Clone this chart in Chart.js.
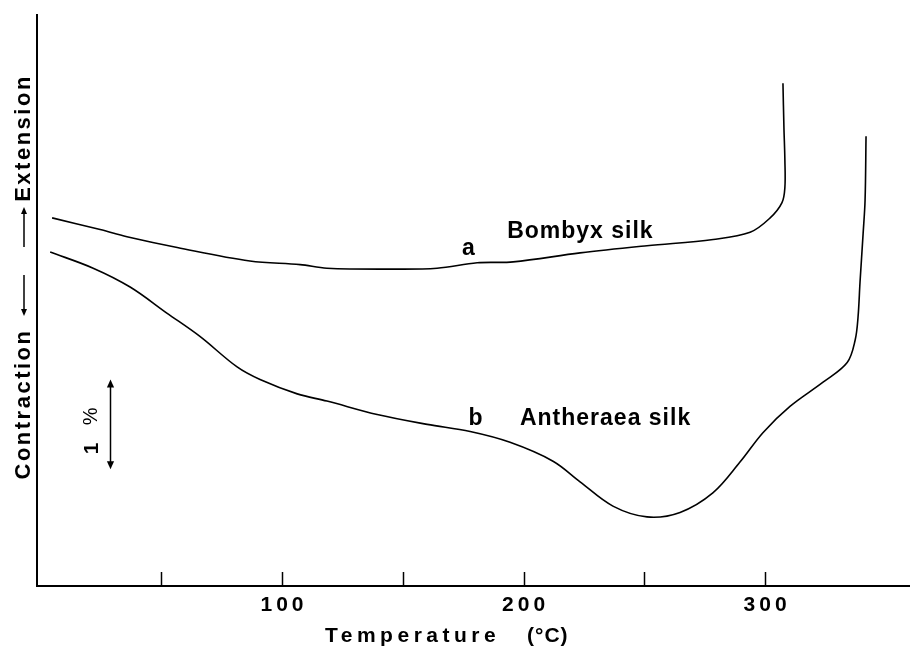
<!DOCTYPE html>
<html><head><meta charset="utf-8">
<script src="https://cdn.jsdelivr.net/npm/chart.js@4/dist/chart.umd.min.js"></script>
<style>html,body{margin:0;padding:0;background:#fff;}#wrap{width:910px;height:647px;}</style>
</head><body><div id="wrap"><canvas id="c" width="910" height="647"></canvas></div>
<script>
// Temperature (°C) and relative length (% units, arbitrary zero)
const tempA = [4.8, 24.7, 35.8, 56.6, 86.7, 107.5, 118.6, 146.0, 164.2, 180.8, 195.7, 223.4, 251.1, 278.5, 293.8, 302.1, 307.0, 308.2, 308.2, 307.8, 307.4];
const lenA  = [4.10, 3.97, 3.89, 3.77, 3.62, 3.58, 3.54, 3.53, 3.54, 3.60, 3.61, 3.71, 3.79, 3.86, 3.94, 4.10, 4.27, 4.44, 4.74, 5.11, 5.60];
const tempB = [4.0, 21.8, 37.1, 52.3, 66.0, 81.4, 90.9, 106.3, 118.6, 139.4, 160.1, 177.9, 194.4, 212.2, 223.4, 237.0, 251.1, 264.8, 278.5, 289.6, 299.2, 310.3, 324.0, 334.0, 337.3, 338.5, 339.3, 340.6, 341.4, 341.8];
const lenB  = [3.72, 3.54, 3.33, 3.04, 2.78, 2.44, 2.30, 2.14, 2.06, 1.91, 1.80, 1.72, 1.60, 1.39, 1.16, 0.89, 0.77, 0.82, 1.04, 1.38, 1.71, 2.00, 2.27, 2.49, 2.74, 3.00, 3.38, 3.93, 4.30, 5.01];
const tickValues = [50, 100, 150, 200, 250, 300];
const tickLabels = [100, 200, 300];
// curve annotations (baseline positions)
const noteTexts = ['a', 'Bombyx silk', 'b', 'Antheraea silk'];
const noteTemp  = [177.4, 193.2, 180.3, 198.5];
const noteLen   = [3.69, 3.88, 1.79, 1.79];
const noteAlign = ['center', 'left', 'center', 'left'];
// 1 % scale bar
const barTemp = 28.8;
const barFrom = 1.30;
const barTo = 2.30;

const FONT = '"Liberation Sans", Arial, sans-serif';
const toPts = (xs, ys) => xs.map((x, i) => ({x: x, y: ys[i]}));

function arrowHead(ctx, x, y, dir, size) {
  ctx.beginPath();
  ctx.moveTo(x, y);
  ctx.lineTo(x - size * 0.45, y - dir * size);
  ctx.lineTo(x + size * 0.45, y - dir * size);
  ctx.closePath();
  ctx.fill();
}

const decor = {
  id: 'decor',
  afterDraw(chart) {
    const ctx = chart.ctx, xs = chart.scales.x, ys = chart.scales.y, ca = chart.chartArea;
    ctx.save();
    ctx.fillStyle = '#000'; ctx.strokeStyle = '#000';
    // inner tick marks on x axis
    ctx.lineWidth = 1.5;
    tickValues.forEach(v => {
      const px = Math.round(xs.getPixelForValue(v)) + 0.5;
      ctx.beginPath(); ctx.moveTo(px, ca.bottom); ctx.lineTo(px, ca.bottom - 14); ctx.stroke();
    });
    // tick labels
    ctx.font = 'bold 21px ' + FONT;
    ctx.textAlign = 'center'; ctx.textBaseline = 'alphabetic';
    ctx.letterSpacing = '4px';
    tickLabels.forEach(v => {
      ctx.fillText(String(v), xs.getPixelForValue(v) + 2, 611);
    });
    // annotations
    ctx.font = 'bold 23px ' + FONT;
    ctx.letterSpacing = '1px';
    noteTexts.forEach((t, i) => {
      ctx.textAlign = noteAlign[i];
      ctx.fillText(t, xs.getPixelForValue(noteTemp[i]), ys.getPixelForValue(noteLen[i]));
    });
    ctx.letterSpacing = '0px';
    // scale bar
    const bx = Math.round(xs.getPixelForValue(barTemp)) + 0.5;
    const b1 = ys.getPixelForValue(barFrom), b2 = ys.getPixelForValue(barTo);
    ctx.lineWidth = 1.5;
    ctx.beginPath(); ctx.moveTo(bx, b1 - 6); ctx.lineTo(bx, b2 + 6); ctx.stroke();
    arrowHead(ctx, bx, b2, -1, 8);
    arrowHead(ctx, bx, b1, 1, 8);
    ctx.save();
    ctx.translate(bx - 18, (b1 + b2) / 2);
    ctx.rotate(-Math.PI / 2);
    ctx.textAlign = 'center'; ctx.textBaseline = 'middle';
    ctx.font = 'bold 21px ' + FONT;
    ctx.fillText('1', -24, 0);
    ctx.font = '20px ' + FONT;
    ctx.fillText('%', 8, -1);
    ctx.restore();
    // x axis title
    ctx.font = 'bold 21px ' + FONT;
    ctx.textAlign = 'left'; ctx.textBaseline = 'alphabetic';
    ctx.letterSpacing = '4.5px';
    ctx.fillText('Temperature', 325, 642);
    ctx.letterSpacing = '1px';
    ctx.fillText('(°C)', 527, 642);
    ctx.letterSpacing = '0px';
    // y axis title (rotated)
    ctx.save();
    ctx.translate(24, 0);
    ctx.rotate(-Math.PI / 2);
    ctx.font = 'bold 22px ' + FONT;
    ctx.textAlign = 'center'; ctx.textBaseline = 'middle';
    ctx.letterSpacing = '2.5px';
    ctx.fillText('Contraction', -404, 0);
    ctx.fillText('Extension', -138, 0);
    ctx.letterSpacing = '0px';
    ctx.lineWidth = 1.5;
    // arrow toward contraction (down on page)
    ctx.beginPath(); ctx.moveTo(-275, 0); ctx.lineTo(-311, 0); ctx.stroke();
    ctx.beginPath(); ctx.moveTo(-316, 0); ctx.lineTo(-309, -3); ctx.lineTo(-309, 3); ctx.closePath(); ctx.fill();
    // arrow toward extension (up on page)
    ctx.beginPath(); ctx.moveTo(-247, 0); ctx.lineTo(-212, 0); ctx.stroke();
    ctx.beginPath(); ctx.moveTo(-207, 0); ctx.lineTo(-214, -3); ctx.lineTo(-214, 3); ctx.closePath(); ctx.fill();
    ctx.restore();
    ctx.restore();
  }
};

new Chart(document.getElementById('c'), {
  type: 'scatter',
  data: {
    datasets: [
      {label: 'Bombyx silk', data: toPts(tempA, lenA), showLine: true, borderColor: '#000', borderWidth: 1.6, pointRadius: 0, tension: 0.35},
      {label: 'Antheraea silk', data: toPts(tempB, lenB), showLine: true, borderColor: '#000', borderWidth: 1.6, pointRadius: 0, tension: 0.35}
    ]
  },
  options: {
    responsive: false,
    animation: false,
    layout: {padding: {left: 0, right: 0, top: 15, bottom: 0}},
    plugins: {legend: {display: false}, tooltip: {enabled: false}},
    scales: {
      x: {
        type: 'linear', min: -1.45, max: 360,
        afterBuildTicks: s => { s.ticks = tickValues.map(v => ({value: v})); },
        afterFit: s => { s.height = 61; },
        grid: {display: false, drawTicks: false},
        border: {display: true, color: '#000', width: 2},
        ticks: {display: false}
      },
      y: {
        type: 'linear', min: 0, max: 6.36,
        afterFit: s => { s.width = 37; },
        grid: {display: false, drawTicks: false},
        border: {display: true, color: '#000', width: 2},
        ticks: {display: false}
      }
    }
  },
  plugins: [decor]
});
</script>
</body></html>
